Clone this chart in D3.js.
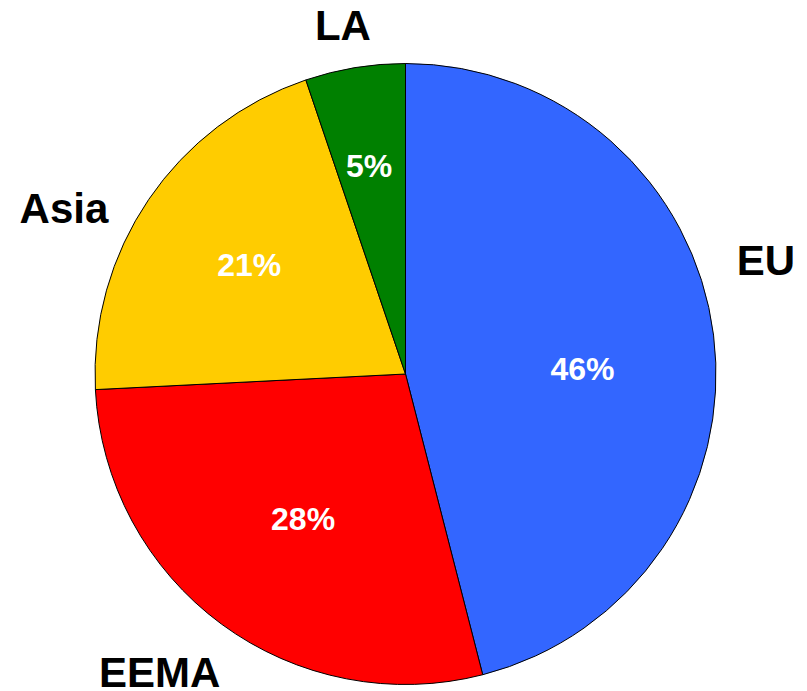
<!DOCTYPE html>
<html>
<head>
<meta charset="utf-8">
<script src="https://cdn.jsdelivr.net/npm/d3@7"></script>
<style>
  html, body { margin: 0; padding: 0; background: #fff; }
  svg { display: block; }
</style>
</head>
<body>
<svg id="chart" width="807" height="691"></svg>
<script>
// ---- data ----
const categories = ["EU", "EEMA", "Asia", "LA"];
const shares = [46.0, 28.2, 20.6, 5.2];
const percentLabels = ["46%", "28%", "21%", "5%"];
const sliceColors = ["#3366FF", "#FF0000", "#FFCC00", "#008000"];

// ---- label placement (polar: radius in px, angle shift in degrees from slice middle) ----
const outerLabelRadius = [378, 386, 380, 355];
const outerLabelShift = [-10.3, 3.2, -8.2, -0.8];
const innerLabelRadius = [177, 177, 191, 212];
const innerLabelShift = [5.4, -1.0, 0.9, -0.5];

const width = 807, height = 691;
const cx = 405.5, cy = 374, R = 310.5;

const svg = d3.select("#chart");
const g = svg.append("g").attr("transform", `translate(${cx},${cy})`);

const table = categories.map((c, i) => ({ name: c, value: shares[i], pct: percentLabels[i], color: sliceColors[i], i }));

const pie = d3.pie().value(d => d.value).sort(null).startAngle(0).endAngle(2 * Math.PI);
const arc = d3.arc().innerRadius(0).outerRadius(R);
const arcs = pie(table);

g.selectAll("path.slice")
  .data(arcs)
  .join("path")
  .attr("class", "slice")
  .attr("d", arc)
  .attr("fill", d => d.data.color)
  .attr("stroke", "#000")
  .attr("stroke-width", 1);

function polar(a, r) {
  return [r * Math.sin(a), -r * Math.cos(a)];
}

// inner percentage labels
g.selectAll("text.pct")
  .data(arcs)
  .join("text")
  .attr("class", "pct")
  .attr("transform", d => {
    const mid = (d.startAngle + d.endAngle) / 2 + innerLabelShift[d.data.i] * Math.PI / 180;
    const [x, y] = polar(mid, innerLabelRadius[d.data.i]);
    return `translate(${x},${y})`;
  })
  .attr("text-anchor", "middle")
  .attr("dy", "0.36em")
  .attr("font-family", "'Liberation Sans', Arial, sans-serif")
  .attr("font-weight", "bold")
  .attr("font-size", 32)
  .attr("fill", "#fff")
  .text(d => d.data.pct);

// outer category labels
g.selectAll("text.cat")
  .data(arcs)
  .join("text")
  .attr("class", "cat")
  .attr("transform", d => {
    const mid = (d.startAngle + d.endAngle) / 2 + outerLabelShift[d.data.i] * Math.PI / 180;
    const [x, y] = polar(mid, outerLabelRadius[d.data.i]);
    return `translate(${x},${y})`;
  })
  .attr("text-anchor", "middle")
  .attr("dy", "0.36em")
  .attr("font-family", "'Liberation Sans', Arial, sans-serif")
  .attr("font-weight", "bold")
  .attr("font-size", 42)
  .attr("fill", "#000")
  .text(d => d.data.name);
</script>
</body>
</html>
